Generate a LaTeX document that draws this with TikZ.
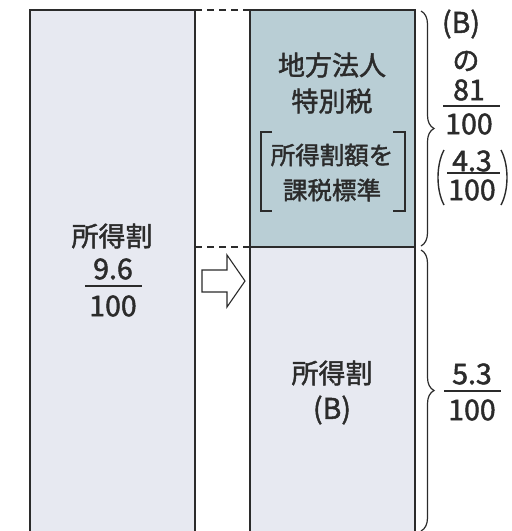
\documentclass[tikz,border=0pt]{standalone}
\usepackage{fontspec}
\setmainfont{Noto Sans CJK JP}[FakeBold=1.6]
\usetikzlibrary{decorations.pathreplacing}
\definecolor{paleblue}{HTML}{E7E9F1}
\definecolor{grayblue}{HTML}{B9CED5}
\definecolor{ink}{HTML}{2B2B2B}
\begin{document}
\begin{tikzpicture}[x=1pt,y=-1pt,
  txt/.style={font=\fontsize{27}{30}\selectfont, inner sep=0pt, text=ink},
  numtxt/.style={font=\fontsize{28.5}{30}\selectfont, inner sep=0pt, text=ink},
  smalltxt/.style={font=\fontsize{24.5}{27}\selectfont, inner sep=0pt, text=ink},
  edge/.style={draw=ink, line width=1.6pt},
  fracline/.style={draw=ink, line width=1.8pt},
  dashline/.style={draw=ink, line width=1.6pt, dash pattern=on 7pt off 5pt},
  bracestyle/.style={draw=ink, line width=1.2pt, decorate, decoration={brace, amplitude=13pt}}]
\useasboundingbox (0,0) rectangle (512,531);
\fill[white] (0,0) rectangle (512,531);
% left box
\fill[paleblue] (30,10) rectangle (195,531);
\draw[edge] (30,531) -- (30,10) -- (195,10) -- (195,531);
% right box
\fill[grayblue] (250,10) rectangle (415,247);
\fill[paleblue] (250,247) rectangle (415,531);
\draw[edge] (250,531) -- (250,10) -- (415,10) -- (415,531);
\draw[edge] (250,247) -- (415,247);
% dashed links
\coordinate (lt) at (195,10);
\coordinate (rt) at (250,10);
\coordinate (lm) at (195,247);
\coordinate (rm) at (250,247);
\draw[dashline] (lt) -- (rt);
\draw[dashline] (lm) -- (rm);
% hollow arrow
\draw[draw=ink, line width=1.1pt, fill=white] (202,270) -- (227,270) -- (227,255) -- (245,281) -- (227,307) -- (227,292) -- (202,292) -- cycle;
% left text
\node[txt] (l1) at (112,236) {所得割};
\node[numtxt] (l2) at (113,269) {9.6};
\draw[fracline] (85,286) -- (142,286);
\node[numtxt] (l3) at (113,306) {100};
% upper right text
\node[txt] (u1) at (332,65) {地方法人};
\node[txt] (u2) at (332,101) {特別税};
\node[smalltxt] (u3) at (332,155) {所得割額を};
\node[smalltxt] (u4) at (332,190) {課税標準};
\draw[draw=ink, line width=1.4pt] (272,132) -- (261,132) -- (261,211) -- (272,211);
\draw[draw=ink, line width=1.4pt] (393,132) -- (405,132) -- (405,211) -- (393,211);
% lower right text
\node[txt] (b1) at (332,373) {所得割};
\node[numtxt] (b2) at (332,410) {(B)};
% braces
\draw[bracestyle] (421,11) -- (421,246);
\draw[bracestyle] (421,250) -- (421,531);
% upper brace label
\node[numtxt] (r1) at (461,24) {(B)};
\node[txt] (r2) at (466,61) {の};
\node[numtxt] (r3) at (469,90) {81};
\draw[fracline] (443,106) -- (500,106);
\node[numtxt] (r4) at (469,124) {100};
\node[numtxt] (r5) at (472,161) {4.3};
\draw[fracline] (447,173) -- (500,173);
\node[numtxt] (r6) at (472,190) {100};
\draw[draw=ink, line width=1.4pt] (444,150) .. controls (436,165) and (436,190) .. (444,205);
\draw[draw=ink, line width=1.4pt] (501,150) .. controls (509,165) and (509,190) .. (501,205);
% lower brace label
\node[numtxt] (s1) at (472,374) {5.3};
\draw[fracline] (444,391) -- (501,391);
\node[numtxt] (s2) at (472,410) {100};
\end{tikzpicture}
\end{document}
